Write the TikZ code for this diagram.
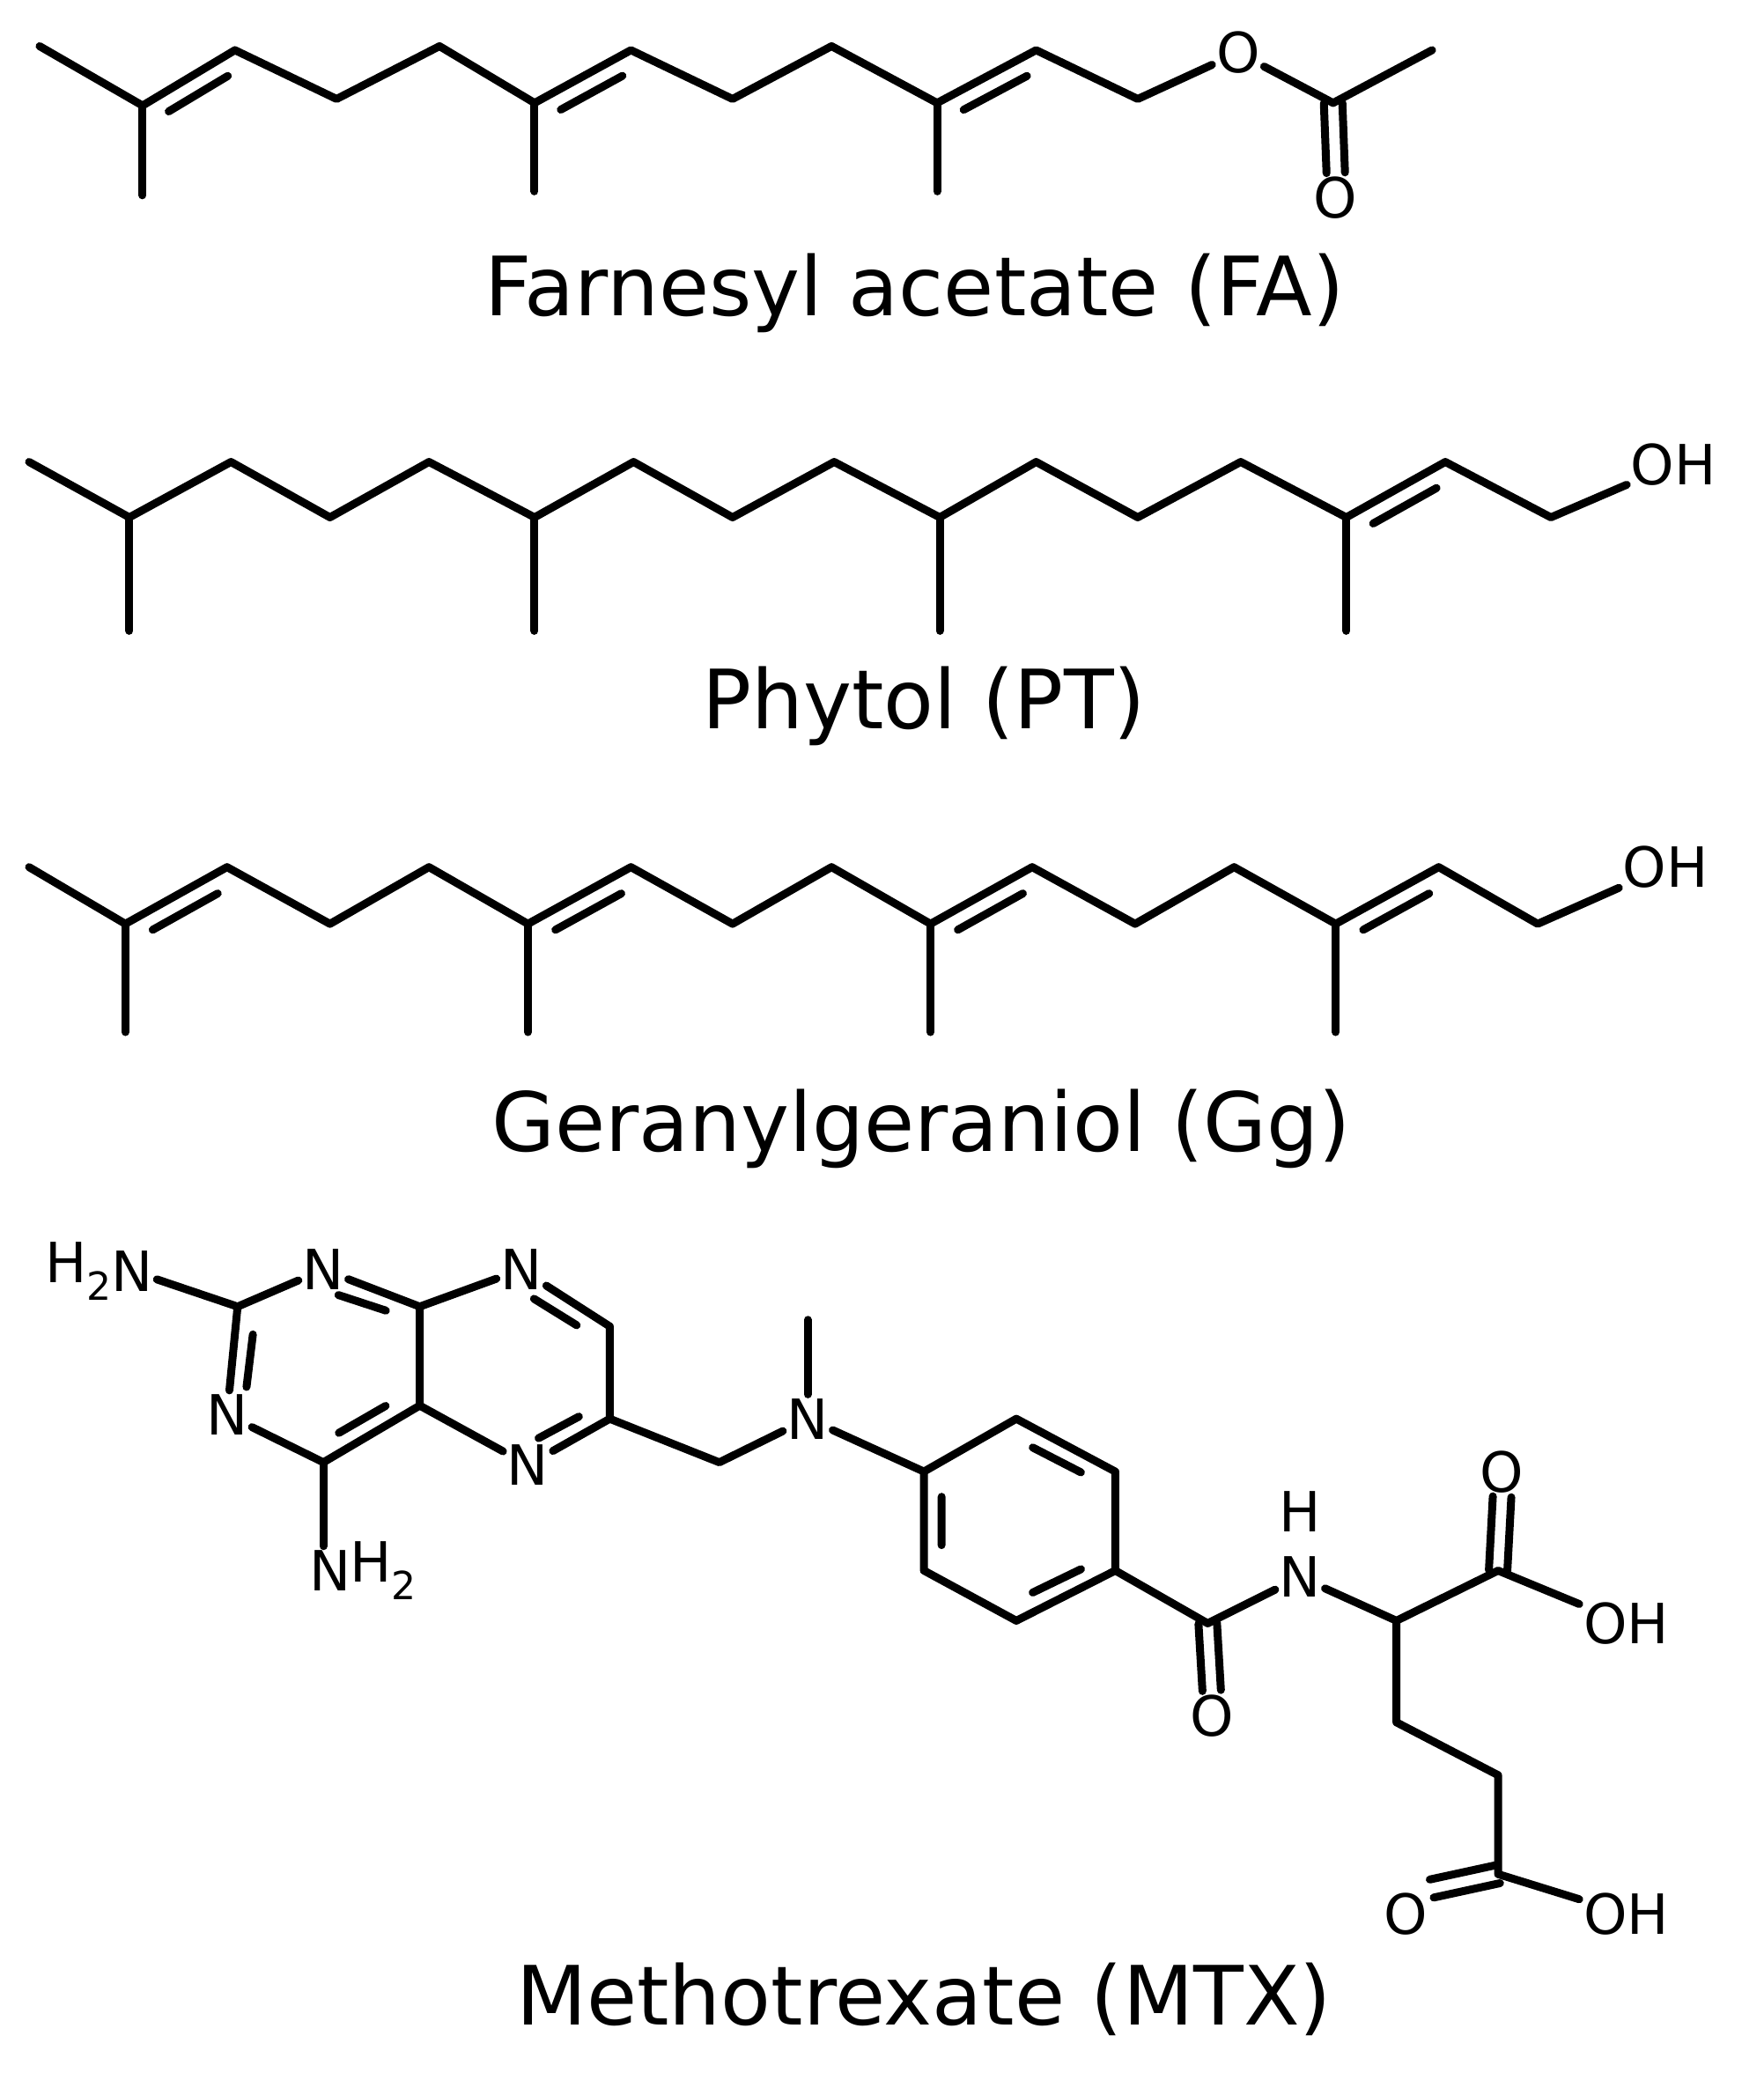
\documentclass[tikz,border=0pt]{standalone}
\usepackage{fontspec}
\setmainfont{DejaVu Sans}
\usetikzlibrary{calc}
\tikzset{
  bond/.style={line width=6pt, line cap=round, line join=round},
  atom/.style={font=\fontsize{42}{42}\selectfont, inner sep=3pt},
  title/.style={font=\fontsize{62}{62}\selectfont, inner sep=0pt},
}
\newcommand\cdb[3]{\draw[bond] ($($(#1)!0.18!(#2)$)!14pt!#3:(#2)$) -- ($($(#2)!0.18!(#1)$)!14pt!-#3:(#1)$);}
\newcommand\rdb[3]{\draw[bond] ($($(#1)!0.2!(#2)$)!14pt!(#3)$) -- ($($(#2)!0.2!(#1)$)!14pt!(#3)$);}
\newcommand\odb[2]{\draw[bond] ($(#1)!7pt!90:(#2)$) -- ($(#2)!7pt!-90:(#1)$); \draw[bond] ($(#1)!7pt!-90:(#2)$) -- ($(#2)!7pt!90:(#1)$);}
\begin{document}
\begin{tikzpicture}[x=1pt,y=-1pt]
\fill[white] (0,0) rectangle (1336,1576);
\useasboundingbox (0,0) rectangle (1336,1576);
% ---------- FA
\foreach \n/\x/\y in {1/30/35,2/108/80,3/178/38,4/255/75,5/333/35,6/405/78,7/478/38,8/555/75,9/630/35,10/710/78,11/785/38,12/862/75,13/1010/78,14/1085/38}
  \coordinate (f\n) at (\x,\y);
\coordinate (fm1) at (108,148); \coordinate (fm2) at (405,145); \coordinate (fm3) at (710,145);
\node[atom] (fO) at (938,40) {O};
\node[atom] (fO2) at (1012,150) {O};
\draw[bond] (f1)--(f2)--(f3)--(f4)--(f5)--(f6)--(f7)--(f8)--(f9)--(f10)--(f11)--(f12)--(fO)--(f13)--(f14);
\draw[bond] (f2)--(fm1); \draw[bond] (f6)--(fm2); \draw[bond] (f10)--(fm3);
\cdb{f2}{f3}{-90} \cdb{f6}{f7}{-90} \cdb{f10}{f11}{-90}
\odb{f13}{fO2.north}
\node[title] (tFA) at (693,222) {Farnesyl acetate (FA)};
% ---------- Phytol
\foreach \n/\x/\y in {1/22/350,2/98/392,3/175/350,4/250/392,5/325/350,6/405/392,7/480/350,8/555/392,9/632/350,10/712/392,11/785/350,12/862/392,13/940/350,14/1020/392,15/1095/350,16/1175/392}
  \coordinate (p\n) at (\x,\y);
\foreach \n/\x in {2/98,6/405,10/712,14/1020} \coordinate (pm\n) at (\x,478);
\node[atom] (pOH) at (1268,352) {OH};
\draw[bond] (p1)--(p2)--(p3)--(p4)--(p5)--(p6)--(p7)--(p8)--(p9)--(p10)--(p11)--(p12)--(p13)--(p14)--(p15)--(p16)--(pOH);
\foreach \n in {2,6,10,14} \draw[bond] (p\n)--(pm\n);
\cdb{p14}{p15}{-90}
\node[title] (tPT) at (700,535) {Phytol (PT)};
% ---------- Gg
\foreach \n/\x/\y in {1/22/657,2/95/700,3/172/657,4/250/700,5/325/657,6/400/700,7/478/657,8/555/700,9/630/657,10/705/700,11/782/657,12/860/700,13/935/657,14/1012/700,15/1090/657,16/1165/700}
  \coordinate (g\n) at (\x,\y);
\foreach \n/\x in {2/95,6/400,10/705,14/1012} \coordinate (gm\n) at (\x,782);
\node[atom] (gOH) at (1262,657) {OH};
\draw[bond] (g1)--(g2)--(g3)--(g4)--(g5)--(g6)--(g7)--(g8)--(g9)--(g10)--(g11)--(g12)--(g13)--(g14)--(g15)--(g16)--(gOH);
\foreach \n in {2,6,10,14} \draw[bond] (g\n)--(gm\n);
\cdb{g2}{g3}{-90} \cdb{g6}{g7}{-90} \cdb{g10}{g11}{-90} \cdb{g14}{g15}{-90}
\node[title] (tGg) at (698,855) {Geranylgeraniol (Gg)};
% ---------- MTX
\node[atom] (nA) at (100,963) {N};
\node[atom,anchor=east,inner sep=0pt,xshift=4pt] (hA) at (nA.west) {H\textsubscript{2}};
\coordinate (c2) at (180,990);
\node[atom] (n1) at (245,962) {N};
\coordinate (c8a) at (318,990);
\node[atom] (n8) at (395,962) {N};
\coordinate (c7) at (462,1005);
\coordinate (c6) at (462,1075);
\node[atom] (n5) at (400,1110) {N};
\coordinate (c4a) at (318,1065);
\coordinate (c4) at (245,1108);
\node[atom] (n3) at (172,1072) {N};
\node[atom] (nB) at (250,1190) {N};
\node[atom,anchor=west,inner sep=0pt,xshift=-4pt] (hB) at (nB.east) {H\textsubscript{2}};
\coordinate (r1) at (245,1030); \coordinate (r2) at (390,1035);
\draw[bond] (nA)--(c2)--(n1)--(c8a)--(n8)--(c7)--(c6)--(n5)--(c4a)--(c8a);
\draw[bond] (c4a)--(c4)--(n3)--(c2);
\draw[bond] (c4)--(c4|-nB.north);
\rdb{c2}{n3}{r1} \rdb{n1}{c8a}{r1} \rdb{c4}{c4a}{r1}
\rdb{n8}{c7}{r2} \rdb{c6}{n5}{r2}
\coordinate (ch2) at (545,1108);
\node[atom] (n10) at (612,1075) {N};
\coordinate (me) at (612,1000);
\foreach \n/\x/\y in {1/700/1115,2/770/1075,3/845/1115,4/845/1190,5/770/1228,6/700/1190}
  \coordinate (b\n) at (\x,\y);
\coordinate (r3) at (772,1152);
\draw[bond] (c6)--(ch2)--(n10)--(b1); \draw[bond] (n10)--(me);
\draw[bond] (b1)--(b2)--(b3)--(b4)--(b5)--(b6)--cycle;
\rdb{b2}{b3}{r3} \rdb{b6}{b1}{r3} \rdb{b4}{b5}{r3}
\coordinate (cc) at (915,1230);
\node[atom] (oc) at (918,1300) {O};
\node[atom] (nh) at (985,1195) {N};
\node[atom] (hh) at (985,1145) {H};
\coordinate (ca) at (1058,1228);
\coordinate (cb) at (1135,1190);
\node[atom] (ob) at (1138,1115) {O};
\node[atom] (oh1) at (1232,1230) {OH};
\coordinate (s1) at (1058,1305); \coordinate (s2) at (1135,1345);
\coordinate (cd) at (1135,1420);
\node[atom] (od) at (1065,1450) {O};
\node[atom] (oh2) at (1232,1450) {OH};
\draw[bond] (b4)--(cc)--(nh)--(ca)--(cb)--(oh1);
\draw[bond] (ca)--(s1)--(s2)--(cd)--(oh2);
\odb{cc}{oc.north} \odb{cb}{ob.south} \odb{cd}{od.north east}
\node[title] (tMTX) at (700,1515) {Methotrexate (MTX)};
\end{tikzpicture}
\end{document}
